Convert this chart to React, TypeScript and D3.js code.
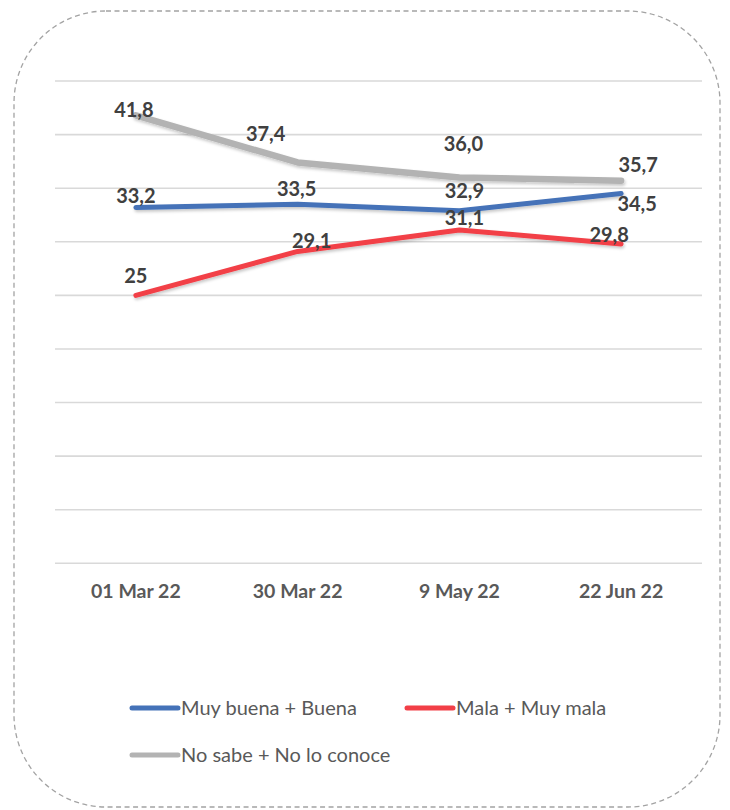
import React from "react";
import * as d3 from "d3";

const categories = ["01 Mar 22", "30 Mar 22", "9 May 22", "22 Jun 22"];
const seriesNames = ["Muy buena + Buena", "Mala + Muy mala", "No sabe + No lo conoce"];
const buenaValues = [33.2, 33.5, 32.9, 34.5];
const malaValues = [25, 29.1, 31.1, 29.8];
const noSabeValues = [41.8, 37.4, 36.0, 35.7];
const buenaLabels = ["33,2", "33,5", "32,9", "34,5"];
const malaLabels = ["25", "29,1", "31,1", "29,8"];
const noSabeLabels = ["41,8", "37,4", "36,0", "35,7"];
const yTicks = [0, 5, 10, 15, 20, 25, 30, 35, 40, 45];

const W = 730;
const H = 810;
const font = "Lato, 'Open Sans', sans-serif";

// label offsets relative to the point (dx, dy to baseline)
const buenaOff = [[0, -4], [-1, -8], [5, -13], [16, 17]];
const malaOff = [[0, -12], [14, -3], [5, -5], [-12, -2]];
const noSabeOff = [[-2, 2], [-32, -21], [4, -26], [17, -9]];

export default function App() {
  const x = d3.scaleBand<string>().domain(categories).range([55, 702]);
  const y = d3.scaleLinear().domain([0, 45]).range([563.3, 81]);
  const cx = (c: string) => (x(c) as number) + x.bandwidth() / 2;

  const line = d3
    .line<number>()
    .x((_, i) => cx(categories[i]))
    .y((d) => y(d));

  const series = [
    { name: seriesNames[0], values: buenaValues, labels: buenaLabels, off: buenaOff, color: "#4472b8", width: 5 },
    { name: seriesNames[1], values: malaValues, labels: malaLabels, off: malaOff, color: "#f23f47", width: 5 },
    { name: seriesNames[2], values: noSabeValues, labels: noSabeLabels, off: noSabeOff, color: "#b3b3b3", width: 6.5 },
  ];
  const drawOrder = [series[2], series[0], series[1]];

  const legendItems = [
    { s: series[0], lx: 132, ly: 708 },
    { s: series[1], lx: 407, ly: 708 },
    { s: series[2], lx: 132, ly: 755 },
  ];

  return (
    <svg
      width={W}
      height={H}
      style={{ position: "absolute", left: 0, top: 0, display: "block", background: "#fff" }}
    >
      <defs>
        <filter id="shadow" x="-10%" y="-50%" width="120%" height="200%">
          <feDropShadow dx="1" dy="2" stdDeviation="1.5" floodColor="#000" floodOpacity="0.22" />
        </filter>
      </defs>
      <rect x={0} y={0} width={W} height={H} fill="#fff" />
      <rect
        x={14}
        y={11}
        width={706}
        height={796}
        rx={92}
        ry={92}
        fill="none"
        stroke="#a3a3a3"
        strokeWidth={1.3}
        strokeDasharray="5 3.5"
      />
      {yTicks.map((t) => (
        <line key={t} x1={55} x2={702} y1={y(t)} y2={y(t)} stroke="#d9d9d9" strokeWidth={1.6} />
      ))}
      {categories.map((c) => (
        <text
          key={c}
          x={cx(c)}
          y={598}
          textAnchor="middle"
          fontFamily={font}
          fontWeight={700}
          fontSize={19.5}
          fill="#595959"
        >
          {c}
        </text>
      ))}
      {drawOrder.map((s) => (
        <path
          key={s.name}
          d={line(s.values) || ""}
          fill="none"
          stroke={s.color}
          strokeWidth={s.width}
          strokeLinejoin="round"
          strokeLinecap="round"
          filter="url(#shadow)"
        />
      ))}
      {series.map((s) =>
        s.values.map((v, i) => (
          <text
            key={s.name + i}
            x={cx(categories[i]) + s.off[i][0]}
            y={y(v) + s.off[i][1]}
            textAnchor="middle"
            fontFamily={font}
            fontWeight={700}
            fontSize={20}
            fill="#404040"
          >
            {s.labels[i]}
          </text>
        ))
      )}
      {legendItems.map(({ s, lx, ly }) => (
        <g key={s.name}>
          <line x1={lx} x2={lx + 46} y1={ly} y2={ly} stroke={s.color} strokeWidth={5} strokeLinecap="round" />
          <text x={lx + 49} y={ly + 7} fontFamily={font} fontSize={20} fill="#595959">
            {s.name}
          </text>
        </g>
      ))}
    </svg>
  );
}
